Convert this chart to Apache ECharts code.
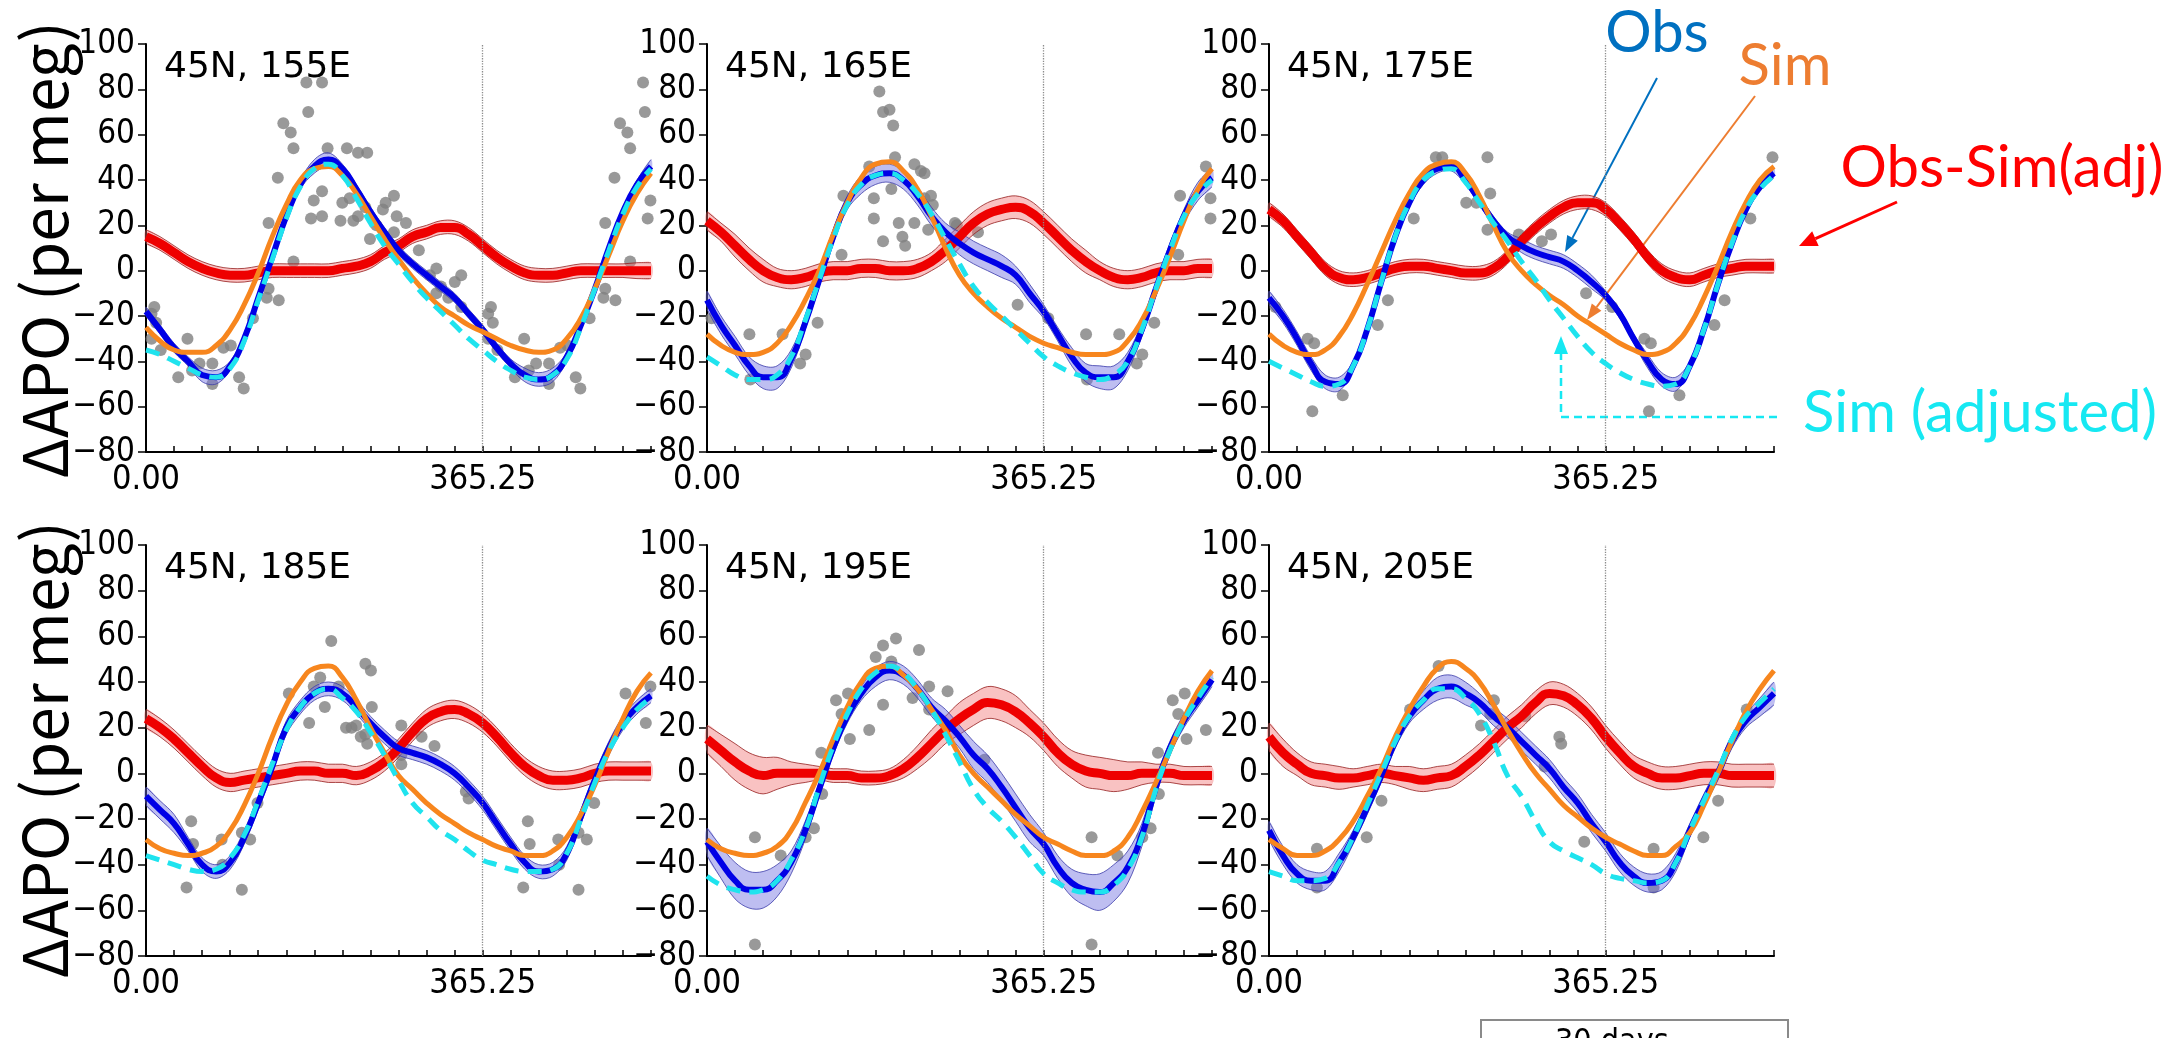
<!DOCTYPE html>
<html><head><meta charset="utf-8">
<script src="https://cdn.jsdelivr.net/npm/echarts@6/dist/echarts.min.js"></script>
<style>html,body{margin:0;padding:0;background:#fff;overflow:hidden}#c{width:2184px;height:1038px}</style>
</head><body><div id="c"></div>
<script>
// sampling days (half-month steps over 1.5 years)
const days = [0,15.22,30.44,45.66,60.88,76.09,91.31,106.53,121.75,136.97,152.19,167.41,182.63,197.84,213.06,228.28,243.5,258.72,273.94,289.16,304.38,319.59,334.81,350.03,365.25,380.47,395.69,410.91,426.13,441.34,456.56,471.78,487,502.22,517.44,532.66,547.875];
const panelNames = ['45N, 155E','45N, 165E','45N, 175E','45N, 185E','45N, 195E','45N, 205E'];
const yTicks = [-80,-60,-40,-20,0,20,40,60,80,100];
const xTickLabels = ['0.00','365.25'];

// 45N 155E
const obs155 = [-18,-26,-34,-40,-46,-47,-42,-30,-12,6,24,38,46,49,45,36,26,17,9,3,-2,-7,-12,-19,-26,-34,-41,-46,-48,-46,-38,-24,-8,10,26,38,46];
const sim155 = [-25,-31,-35,-36,-36,-33,-26,-15,-1,15,29,40,45,46,42,34,24,14,5,-3,-10,-16,-20,-24,-27,-30,-33,-35,-36,-35,-30,-21,-8,7,22,34,43];
const adj155 = [-35,-37,-40,-43,-46,-47,-43,-31,-13,5,23,37,45,47,42,32,21,11,3,-5,-12,-18,-24,-30,-35,-40,-44,-47,-48,-46,-39,-25,-8,9,25,37,45];
const diff155 = [15,12,8,4,1,-1,-2,-2,-1,0,0,0,0,0,1,2,4,8,11,15,17,19,19,16,11,6,2,-1,-2,-2,-1,0,0,0,0,0,0];
const obsBand155 = [2,2,2,2,3,3,2,2,2,2,2,2,3,3,2,2,2,2,2,2,2,2,2,2,2,2,2,3,3,3,2,2,2,2,2,2,3];
const diffBand155 = [3,3,3,3,3,3,3,3,3,3,3,3,3,3,3,3,3,3,3,3,3,3,3,3,3,3,3,3,3,3,3,3,3,3,3,3.5,3.5];
const dots155 = [[6,-19],[9,-16],[11,-23],[6,-30],[16,-35],[35,-47],[45,-30],[50,-44],[58,-41],[72,-41],[72,-50],[84,-34],[92,-33],[101,-47],[106,-52],[116,-21],[131,-12],[133,21],[133,-8],[144,-13],[143,41],[149,65],[157,61],[160,4],[160,54],[174,83],[176,70],[179,23],[182,31],[191,35],[191,24],[191,83],[197,54],[211,22],[213,30],[218,54],[221,32],[225,22],[230,52],[240,52],[230,24],[238,28],[243,14],[250,20],[257,27],[260,30],[269,33],[272,24],[282,21],[269,17],[296,9],[308,-2],[315,1],[315,-10],[320,-7],[328,-12],[335,-5],[342,-2],[342,-16]];

// 45N 165E
const obs165 = [-13,-24,-33,-42,-47,-47,-39,-23,-4,15,30,38,42,43,40,33,24,17,12,8,5,2,-2,-10,-18,-28,-38,-45,-47,-47,-40,-26,-8,9,24,35,41];
const sim165 = [-28,-33,-36,-37,-36,-32,-24,-13,0,16,30,41,47,48,44,36,24,10,-2,-10,-16,-21,-25,-29,-32,-34,-36,-37,-37,-36,-31,-22,-9,6,22,36,45];
const adj165 = [-38,-42,-46,-48,-48,-46,-38,-22,-4,14,29,38,42,43,40,34,25,14,3,-7,-14,-20,-26,-32,-38,-42,-45,-47,-48,-46,-40,-26,-8,9,24,34,40];
const diff165 = [22,17,11,5,0,-3,-4,-3,-1,0,0,1,1,0,0,1,4,9,15,21,25,27,28,26,21,15,9,4,0,-3,-4,-3,-1,0,0,1,1];
const obsBand165 = [4,4,4,4,5,5,4,3,3,3,3,4,4,4,4,4,4,4,5,5,5,5,4,4,3,3,4,4,5,5,4,3,3,3,3,4,4];
const diffBand165 = [4,4,5,5,5,4,4,4,4,4,4,4,4,4,4,4,4,5,5,5,5,5,5,5,5,5,5,5,4,4,4,4,4,4,4,4,4];
const dots165 = [[5,-21],[46,-28],[47,-48],[82,-28],[101,-41],[107,-37],[120,-23],[146,7],[148,33],[176,46],[181,32],[181,23],[187,79],[191,70],[198,71],[202,64],[191,13],[200,36],[204,50],[208,21],[212,15],[215,11],[225,21],[225,47],[232,44],[236,43],[236,32],[240,18],[243,33],[245,29],[269,21],[271,20],[294,17],[337,-15]];

// 45N 175E
const obs175 = [-12,-20,-30,-41,-49,-50,-42,-26,-5,15,30,40,45,46,40,31,22,15,11,8,6,4,0,-5,-11,-19,-30,-40,-48,-50,-42,-26,-6,12,27,37,43];
const sim175 = [-28,-33,-36,-37,-35,-29,-19,-6,8,22,34,43,47,48,43,33,20,8,0,-6,-11,-15,-20,-24,-28,-32,-35,-37,-36,-32,-24,-12,2,17,30,40,46];
const adj175 = [-40,-43,-46,-49,-51,-50,-42,-26,-5,15,30,40,44,45,39,30,21,13,4,-4,-13,-21,-29,-36,-41,-45,-48,-50,-51,-50,-42,-26,-6,12,27,36,42];
const diff175 = [27,22,15,8,1,-3,-4,-3,-1,1,2,2,1,0,-1,-1,1,6,13,19,24,28,30,30,27,21,14,6,0,-3,-4,-2,0,1,2,2,2];
const obsBand175 = [3,3,3,3,3,3,2,2,2,2,2,2,2,2,2,2,2,2,3,3,3,3,3,3,2,2,2,3,3,3,2,2,2,2,2,2,2];
const diffBand175 = [3,3,3,3,3,3,3,3,3,3,3,3,3,3,3,3,3,3,3,3,3,3,3,3,3,3,3,3,3,3,3,3,3,3,3,3,3];
const dots175 = [[7,-16],[42,-30],[49,-32],[47,-62],[80,-55],[118,-24],[129,-13],[157,23],[181,50],[188,50],[214,30],[225,30],[237,50],[240,34],[237,18],[271,16],[296,13],[306,16],[344,-10]];

// 45N 185E
const obs185 = [-10,-16,-22,-31,-40,-43,-39,-28,-13,3,20,29,35,37,35,29,22,16,11,9,7,4,0,-6,-13,-22,-31,-39,-43,-42,-35,-19,-3,11,22,29,34];
const sim185 = [-29,-33,-35,-36,-35,-32,-25,-14,0,16,30,40,46,47,42,32,20,9,-1,-7,-13,-18,-22,-26,-29,-32,-34,-36,-36,-34,-28,-18,-5,10,24,36,44];
const adj185 = [-36,-38,-40,-42,-43,-42,-37,-27,-12,4,19,29,35,37,33,27,18,8,-3,-13,-19,-25,-29,-34,-38,-40,-42,-43,-43,-42,-35,-20,-4,10,20,28,33];
const diff185 = [24,20,15,9,3,-2,-4,-3,-2,-1,0,1,1,0,0,-1,1,5,11,18,24,27,28,26,22,16,9,3,-1,-3,-3,-2,0,1,1,1,1];
const obsBand185 = [4,4,4,3,3,3,3,3,3,3,3,3,3,3,3,3,3,3,3,3,3,3,3,3,3,3,3,3,3,3,3,3,3,3,3,3,3];
const diffBand185 = [4,4,4,4,4,4,4,4,4,4,4,4,4,4,4,4,4,4,4,4,4,4,4,4,4,4,4,4,4,4,4,4,4,4,4,4,4];
const dots185 = [[44,-50],[49,-21],[51,-31],[82,-29],[83,-40],[104,-26],[104,-51],[113,-29],[121,-13],[155,35],[177,22],[182,38],[189,42],[194,29],[201,58],[209,38],[217,20],[223,20],[228,21],[233,16],[238,17],[240,13],[238,48],[244,45],[245,29],[277,21],[277,8],[277,4],[299,16],[313,12],[347,-8],[350,-11]];

// 45N 195E
const obs195 = [-30,-39,-47,-51,-51,-47,-39,-25,-7,11,25,35,42,45,43,37,29,23,16,8,2,-6,-15,-24,-31,-41,-48,-51,-52,-48,-41,-27,-6,11,23,32,41];
const sim195 = [-29,-33,-35,-36,-35,-32,-25,-13,0,15,29,40,46,47,43,37,28,19,8,0,-6,-12,-18,-23,-28,-31,-34,-36,-36,-34,-28,-17,-4,10,24,36,45];
const adj195 = [-45,-49,-51,-52,-51,-47,-38,-25,-6,12,26,37,44,47,44,37,28,17,5,-7,-15,-21,-28,-36,-44,-48,-51,-52,-52,-49,-42,-28,-7,10,23,33,42];
const diff195 = [15,10,5,1,-1,0,0,0,0,-1,-1,-2,-2,-1,2,7,13,19,24,28,31,30,27,22,16,9,4,1,0,-1,-1,0,0,0,-1,-1,-1];
const obsBand195 = [6,7,8,8,8,7,5,4,3,3,3,3,4,4,4,4,4,5,5,6,6,6,6,6,5,5,6,7,8,8,7,5,4,3,3,3,3];
const diffBand195 = [6,7,8,8,8,7,5,4,3,3,3,3,3,3,4,5,6,6,7,7,7,7,7,6,6,6,6,7,7,7,6,5,4,4,4,4,4];
const dots195 = [[52,-28],[52,-75],[80,-36],[107,-28],[116,-24],[124,9],[125,-9],[140,32],[146,26],[155,15],[153,35],[176,19],[183,51],[191,56],[191,30],[200,49],[205,59],[223,33],[230,54],[241,38],[241,28],[261,36],[301,6]];

// 45N 205E
const obs205 = [-25,-36,-44,-47,-47,-39,-28,-15,-1,14,25,32,37,38,35,31,25,20,14,8,2,-6,-13,-22,-30,-39,-45,-48,-47,-39,-25,-12,0,14,23,29,35];
const sim205 = [-29,-33,-36,-36,-34,-29,-21,-10,2,16,28,38,46,49,46,40,30,19,9,0,-7,-14,-19,-24,-28,-31,-34,-36,-36,-32,-26,-14,0,14,27,37,45];
const adj205 = [-43,-45,-47,-47,-46,-39,-28,-14,0,14,25,32,37,37,33,26,14,-1,-10,-21,-30,-34,-37,-40,-44,-46,-47,-48,-47,-39,-25,-12,1,15,25,31,37];
const diff205 = [16,9,4,0,-1,-2,-2,-1,0,-1,-2,-3,-2,-1,3,8,14,20,25,31,35,34,30,24,16,9,3,0,-2,-2,-1,0,0,-1,-1,-1,-1];
const obsBand205 = [4,4,4,4,4,4,3,3,3,3,3,4,5,5,5,4,4,4,4,4,4,4,4,4,4,4,4,4,4,4,3,3,3,3,3,4,5];
const diffBand205 = [6,6,5,5,5,5,4,4,4,4,5,5,5,5,5,5,5,5,5,5,5,5,5,5,5,5,5,5,5,5,5,5,5,5,5,5,5];
const dots205 = [[52,-33],[52,-50],[106,-28],[122,-12],[153,28],[184,47],[230,21],[244,32],[240,26],[278,25],[299,3],[315,16],[317,13],[342,-30]];

const YEAR = 365.25, XMAX = 547.875, MONTH = 30.4375;

const panels = [
  {obs:obs155, sim:sim155, adj:adj155, diff:diff155, ob:obsBand155, db:diffBand155, dots:dots155},
  {obs:obs165, sim:sim165, adj:adj165, diff:diff165, ob:obsBand165, db:diffBand165, dots:dots165},
  {obs:obs175, sim:sim175, adj:adj175, diff:diff175, ob:obsBand175, db:diffBand175, dots:dots175},
  {obs:obs185, sim:sim185, adj:adj185, diff:diff185, ob:obsBand185, db:diffBand185, dots:dots185},
  {obs:obs195, sim:sim195, adj:adj195, diff:diff195, ob:obsBand195, db:diffBand195, dots:dots195},
  {obs:obs205, sim:sim205, adj:adj205, diff:diff205, ob:obsBand205, db:diffBand205, dots:dots205}
];

const gridLeft = [146, 707, 1269];
const gridTop = [44, 545];
const gridH = [408, 411];
const gridW = 505;

const grids = [], xAxes = [], yAxes = [], titles = [], series = [];
const tickFont = '"Liberation Sans Narrow", "Arial Narrow", "DejaVu Sans Condensed", sans-serif';

function bandSeries(i, center, hw, fill, edge) {
  return {
    type: 'custom', xAxisIndex: i, yAxisIndex: i, z: 2, silent: true,
    data: [[0, 0]],
    renderItem: function (params, api) {
      const up = [], lo = [];
      for (let k = 0; k < days.length; k++) {
        up.push(api.coord([days[k], center[k] + hw[k]]));
        lo.push(api.coord([days[k], center[k] - hw[k]]));
      }
      const poly = up.concat(lo.slice().reverse());
      return { type: 'group', children: [
        { type: 'polygon', shape: { points: poly, smooth: 0.35 }, style: { fill: fill, stroke: null } },
        { type: 'polyline', shape: { points: up, smooth: 0.35 }, style: { stroke: edge, lineWidth: 1, fill: null } },
        { type: 'polyline', shape: { points: lo, smooth: 0.35 }, style: { stroke: edge, lineWidth: 1, fill: null } }
      ]};
    }
  };
}
function lineData(arr) { return days.map((d, k) => [d, arr[k]]); }

panels.forEach((p, i) => {
  const col = i % 3, row = Math.floor(i / 3);
  grids.push({ left: gridLeft[col], top: gridTop[row], width: gridW, height: gridH[row], containLabel: false });
  xAxes.push({
    type: 'value', gridIndex: i, min: 0, max: XMAX, interval: MONTH,
    axisLine: { show: true, onZero: false, lineStyle: { color: '#000', width: 2 } },
    axisTick: { show: true, inside: true, length: 6, lineStyle: { color: '#000', width: 1.5 } },
    splitLine: { show: false },
    axisLabel: {
      margin: 11, fontSize: 34, fontFamily: tickFont, color: '#000',
      formatter: function (v) {
        if (Math.abs(v) < 1e-6) return xTickLabels[0];
        if (Math.abs(v - YEAR) < 1e-6) return xTickLabels[1];
        return '';
      }
    }
  });
  yAxes.push({
    type: 'value', gridIndex: i, min: yTicks[0], max: yTicks[yTicks.length - 1], interval: 20,
    axisLine: { show: true, onZero: false, lineStyle: { color: '#000', width: 2 } },
    axisTick: { show: true, inside: false, length: 8, lineStyle: { color: '#000', width: 1.5 } },
    splitLine: { show: false },
    axisLabel: { margin: 11, fontSize: 33, fontFamily: tickFont, color: '#000',
      formatter: v => String(v).replace('-', '\u2212') }
  });
  titles.push({
    text: panelNames[i], left: gridLeft[col] + 18, top: gridTop[row] + 6, padding: 0,
    textStyle: { fontSize: 36, fontFamily: '"DejaVu Sans", sans-serif', fontWeight: 'normal', color: '#000' }
  });
  // dots repeated for the second half-year shown
  const dotData = [];
  p.dots.forEach(d => { dotData.push(d); if (d[0] + YEAR <= XMAX) dotData.push([d[0] + YEAR, d[1]]); });
  series.push({
    type: 'scatter', xAxisIndex: i, yAxisIndex: i, z: 1, data: dotData, symbolSize: 12,
    itemStyle: { color: '#808080' }, silent: true,
    markLine: { silent: true, symbol: ['none', 'none'], label: { show: false },
      lineStyle: { type: 'dotted', color: '#8c8c8c', width: 1.3 }, data: [{ xAxis: YEAR }] }
  });
  series.push(bandSeries(i, p.diff, p.db, 'rgba(240,110,110,0.42)', 'rgba(150,30,30,0.8)'));
  series.push(bandSeries(i, p.obs, p.ob, 'rgba(110,110,225,0.45)', 'rgba(60,60,170,0.8)'));
  series.push({ type: 'line', xAxisIndex: i, yAxisIndex: i, z: 3, data: lineData(p.diff), smooth: true, symbol: 'none',
    lineStyle: { color: '#EE0000', width: 9 }, silent: true });
  series.push({ type: 'line', xAxisIndex: i, yAxisIndex: i, z: 4, data: lineData(p.obs), smooth: true, symbol: 'none',
    lineStyle: { color: '#0000E6', width: 6 }, silent: true });
  series.push({ type: 'line', xAxisIndex: i, yAxisIndex: i, z: 5, data: lineData(p.sim), smooth: true, symbol: 'none',
    lineStyle: { color: '#F7861E', width: 5 }, silent: true });
  series.push({ type: 'line', xAxisIndex: i, yAxisIndex: i, z: 6, data: lineData(p.adj), smooth: true, symbol: 'none',
    lineStyle: { color: '#1FE3EE', width: 5, type: [14, 9] }, silent: true });
});

function arrow(x1, y1, x2, y2, color, w, len, wid) {
  const dx = x2 - x1, dy = y2 - y1, L = Math.sqrt(dx * dx + dy * dy);
  const ux = dx / L, uy = dy / L, nx = -uy, ny = ux;
  const bx = x2 - ux * len, by = y2 - uy * len;
  return [
    { type: 'line', shape: { x1: x1, y1: y1, x2: bx, y2: by }, style: { stroke: color, lineWidth: w } },
    { type: 'polygon', shape: { points: [[x2, y2], [bx + nx * wid, by + ny * wid], [bx - nx * wid, by - ny * wid]] }, style: { fill: color } }
  ];
}

const annFont = 'Lato, "Open Sans", sans-serif';
const yName = '\u0394APO (per meg)';
const yNameFont = '"Noto Sans CJK JP", "Noto Sans", sans-serif';
const graphics = [
  { type: 'text', x: 44, y: 250, rotation: Math.PI / 2,
    style: { text: yName, fontSize: 62, fontFamily: yNameFont, fill: '#000', align: 'center', verticalAlign: 'middle' } },
  { type: 'text', x: 44, y: 750, rotation: Math.PI / 2,
    style: { text: yName, fontSize: 62, fontFamily: yNameFont, fill: '#000', align: 'center', verticalAlign: 'middle' } },
  { type: 'text', x: 1657, y: 33, style: { text: 'Obs', fontSize: 58, fontFamily: annFont, fill: '#0070C0', align: 'center', verticalAlign: 'middle' } },
  { type: 'text', x: 1785, y: 66, style: { text: 'Sim', fontSize: 58, fontFamily: annFont, fill: '#ED7D31', align: 'center', verticalAlign: 'middle' } },
  { type: 'text', x: 2002, y: 168, style: { text: 'Obs-Sim(adj)', fontSize: 58, fontFamily: annFont, fill: '#FF0000', align: 'center', verticalAlign: 'middle' } },
  { type: 'text', x: 1980, y: 413, style: { text: 'Sim (adjusted)', fontSize: 58, fontFamily: annFont, fill: '#16E8F2', align: 'center', verticalAlign: 'middle' } },
  { type: 'polyline', shape: { points: [[1777, 417], [1561, 417], [1561, 352]] }, style: { stroke: '#16E8F2', lineWidth: 2.5, lineDash: [8, 5], fill: null } },
  { type: 'polygon', shape: { points: [[1561, 336], [1554, 354], [1568, 354]] }, style: { fill: '#16E8F2' } },
  { type: 'rect', shape: { x: 1481, y: 1020, width: 307, height: 40 }, style: { stroke: '#8a8a8a', lineWidth: 2, fill: null } },
  { type: 'text', x: 1555, y: 1027, style: { text: '30 days', fontSize: 32, fontFamily: tickFont, fill: '#000', align: 'left', verticalAlign: 'top' } }
].concat(
  arrow(1657, 78, 1565, 252, '#0070C0', 2, 16, 6),
  arrow(1755, 96, 1587, 320, '#ED7D31', 2, 16, 6),
  arrow(1897, 202, 1799, 246, '#FF0000', 3, 18, 8)
);

const chart = echarts.init(document.getElementById('c'), null, { renderer: 'canvas', width: 2184, height: 1038 });
chart.setOption({
  backgroundColor: '#fff',
  animation: false,
  title: titles,
  grid: grids,
  xAxis: xAxes,
  yAxis: yAxes,
  series: series,
  graphic: { elements: graphics }
});
</script>
</body></html>
